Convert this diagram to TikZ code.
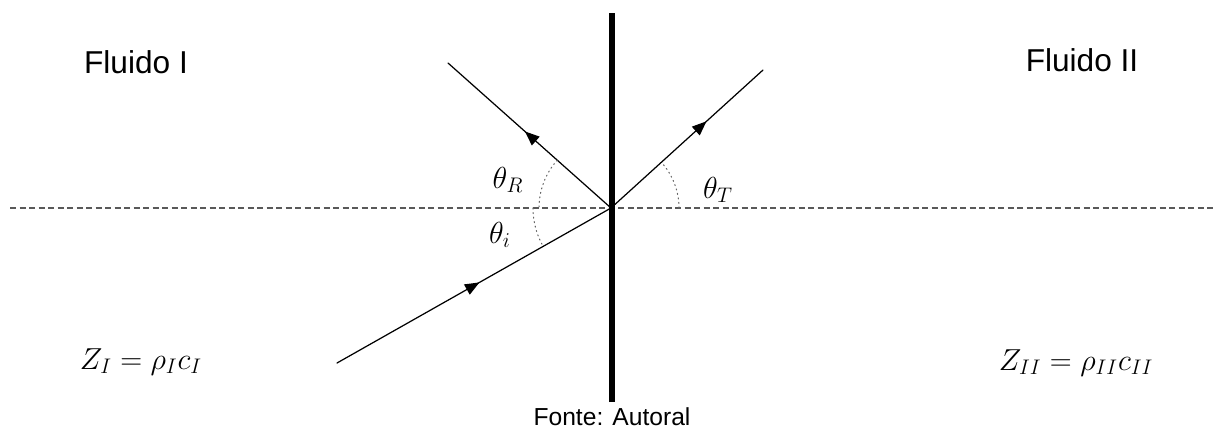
\documentclass[tikz,border=0pt]{standalone}
\usepackage{fontspec}
\setmainfont{Liberation Sans}
\usetikzlibrary{arrows.meta,decorations.markings}

\begin{document}
\begin{tikzpicture}[x=0.2mm,y=0.2mm,line cap=round,line join=round,
  ray/.style={line width=0.7pt,postaction={decorate},
    decoration={markings,mark=at position #1 with {\arrow{Triangle[length=2.9mm,width=2.3mm]}}}},
  angarc/.style={gray!80!black,line width=0.6pt,dotted},
  fluid/.style={font=\fontsize{18}{22}\selectfont},
  mathlbl/.style={font=\fontsize{18}{22}\selectfont}]
\useasboundingbox (0,0) rectangle (1213,430);
\coordinate (O) at (611,222);
\coordinate (I) at (337,67);
\coordinate (R) at (448,367);
\coordinate (T) at (763,360);
\coordinate (wl) at (10,222);
\coordinate (wr) at (1213,222);
\coordinate (bt) at (612,417);
\coordinate (bb) at (612,28);
% interface and normal
\draw[gray!70!black,line width=0.6pt,dash pattern=on 1.2mm off 0.7mm,line cap=butt] (wl) -- (wr);
\draw[line width=3.4pt,line cap=butt] (bb) -- (bt);
% rays
\draw[ray=0.52] (I) -- (O);
\draw[ray=0.53] (O) -- (R);
\draw[ray=0.63] (O) -- (T);
% angles
\draw[angarc] ([shift={(138.3:72)}]O) arc[start angle=138.3,end angle=180,radius=72];
\draw[angarc] ([shift={(180:78)}]O) arc[start angle=180,end angle=209.5,radius=78];
\draw[angarc] ([shift={(0:68)}]O) arc[start angle=0,end angle=42.2,radius=68];
\node[mathlbl] (thR) at (508,250) {$\theta_R$};
\node[mathlbl] (thi) at (500,195) {$\theta_i$};
\node[mathlbl] (thT) at (718,240) {$\theta_T$};
% labels
\node[fluid] (fluid1) at (136,368) {Fluido I};
\node[fluid] (fluid2) at (1082,370) {Fluido II};
\node[mathlbl] (z1) at (141,68) {$Z_I = \rho_I c_I$};
\node[mathlbl] (z2) at (1076,67) {$Z_{II} = \rho_{II} c_{II}$};
\node[font=\fontsize{14}{17}\selectfont,inner sep=1pt,anchor=south] (src) at (612,2) {Fonte: Autoral};
\end{tikzpicture}
\end{document}
